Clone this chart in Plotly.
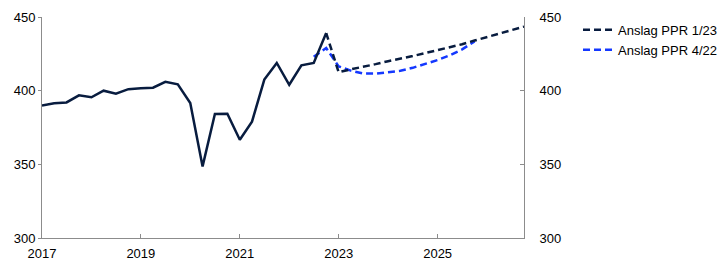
import plotly.graph_objects as go

hist_dates = ["2017-01-01","2017-04-01","2017-07-01","2017-10-01",
              "2018-01-01","2018-04-01","2018-07-01","2018-10-01",
              "2019-01-01","2019-04-01","2019-07-01","2019-10-01",
              "2020-01-01","2020-04-01","2020-07-01","2020-10-01",
              "2021-01-01","2021-04-01","2021-07-01","2021-10-01",
              "2022-01-01","2022-04-01","2022-07-01","2022-10-01"]
hist_values = [390, 391.4, 392, 396.8, 395.5, 400, 398, 401, 401.6, 402, 406, 404.3,
               391.6, 348.6, 384.2, 384.4, 366.7, 379, 407.5, 418.8, 404, 417.2, 418.8, 439.1]

ppr123_dates = ["2022-10-01",
                "2023-01-01","2023-04-01","2023-07-01","2023-10-01",
                "2024-01-01","2024-04-01","2024-07-01","2024-10-01",
                "2025-01-01","2025-04-01","2025-07-01","2025-10-01",
                "2026-01-01","2026-04-01","2026-07-01","2026-10-01"]
ppr123_values = [439.1, 412.5, 414.5, 416, 418, 420, 422, 423.5, 425.5,
                 427.5, 429.5, 431.5, 434, 436.5, 438.5, 441, 443.5]

ppr422_dates = ["2022-07-01","2022-10-01",
                "2023-01-01","2023-04-01","2023-07-01","2023-10-01",
                "2024-01-01","2024-04-01","2024-07-01","2024-10-01",
                "2025-01-01","2025-04-01","2025-07-01","2025-10-01"]
ppr422_values = [423, 429, 416.5, 413.6, 411.6, 411.6, 412.5, 413.5, 415.5, 418,
                 420.8, 424, 428, 433.4]

navy = "#081c3f"
blue = "#1438ff"
axis_col = "#8c8c8c"
font = dict(family="Liberation Sans, Arial, sans-serif", size=13, color="#000000")

fig = go.Figure()
fig.add_trace(go.Scatter(x=ppr422_dates, y=ppr422_values, mode="lines",
                         line=dict(color=blue, width=2.5, dash="7px,4px"),
                         name="Anslag PPR 4/22"))
fig.add_trace(go.Scatter(x=ppr123_dates, y=ppr123_values, mode="lines",
                         line=dict(color=navy, width=2.5, dash="7px,4px"),
                         name="Anslag PPR 1/23"))
fig.add_trace(go.Scatter(x=hist_dates, y=hist_values, mode="lines",
                         line=dict(color=navy, width=2.5),
                         showlegend=False, name="Historikk"))
fig.add_trace(go.Scatter(x=hist_dates, y=hist_values, mode="lines", yaxis="y2",
                         line=dict(width=0), opacity=0, showlegend=False,
                         hoverinfo="skip"))

fig.update_layout(
    width=722, height=269,
    margin=dict(l=42, r=198, t=17, b=31, autoexpand=False),
    paper_bgcolor="white", plot_bgcolor="white",
    font=font,
    showlegend=True,
    legend=dict(x=1.112, y=1.01, xanchor="left", yanchor="top",
                traceorder="reversed", font=font, bgcolor="rgba(0,0,0,0)",
                tracegroupgap=0, itemwidth=30),
    xaxis=dict(type="date", range=["2017-01-01", "2026-10-01"],
               dtick="M24", tick0="2017-01-01", tickformat="%Y",
               showgrid=False, zeroline=False, showline=True, linecolor=axis_col,
               linewidth=1, ticks="inside", ticklen=4, tickcolor=axis_col,
               tickfont=font, ticklabelstandoff=3),
    yaxis=dict(range=[300, 450], dtick=50, showgrid=False, zeroline=False,
               showline=True, linecolor=axis_col, linewidth=1,
               ticks="outside", ticklen=3, tickcolor=axis_col, tickfont=font),
    yaxis2=dict(range=[300, 450], dtick=50, overlaying="y", side="right",
                showgrid=False, zeroline=False, showline=True, linecolor=axis_col,
                linewidth=1, ticks="inside", ticklen=4, tickcolor=axis_col,
                tickfont=font, ticklabelstandoff=12),
)

fig.write_html("out.html")
